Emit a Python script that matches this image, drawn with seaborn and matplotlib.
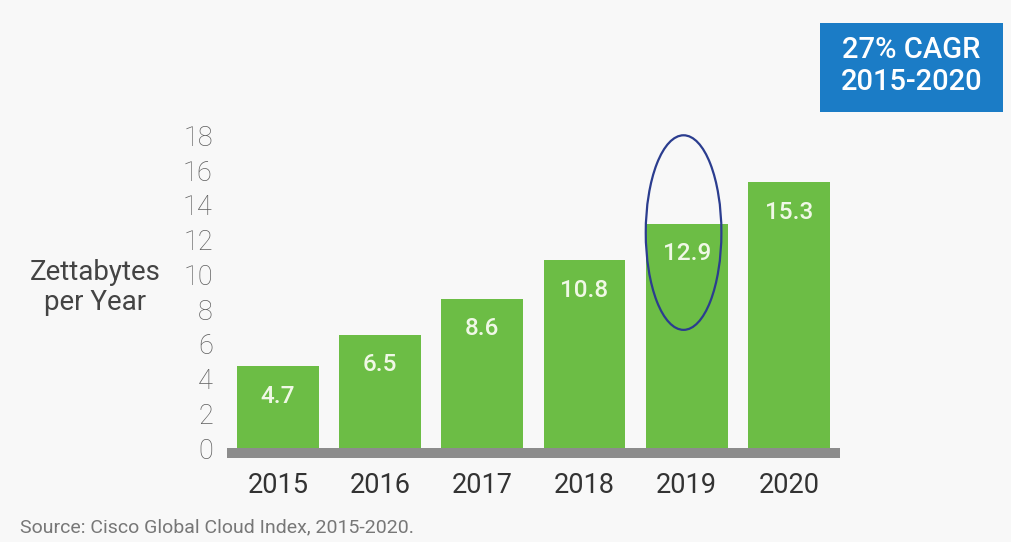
import matplotlib
matplotlib.use("Agg")
import matplotlib.pyplot as plt
from matplotlib.patches import Ellipse, Rectangle
import seaborn as sns
import pandas as pd

years = ["2015", "2016", "2017", "2018", "2019", "2020"]
zettabytes = [4.7, 6.5, 8.6, 10.8, 12.9, 15.3]
y_ticks = [0, 2, 4, 6, 8, 10, 12, 14, 16, 18]
highlight_year = "2019"
cagr_text = "27% CAGR\n2015-2020"
source_text = "Source: Cisco Global Cloud Index, 2015-2020."
y_label = "Zettabytes\nper Year"

df = pd.DataFrame({"year": years, "zb": zettabytes})

sns.set_theme(style="white")
plt.rcParams["font.family"] = ["Roboto", "DejaVu Sans"]

bg = "#f8f8f8"
green = "#6cbd45"

fig = plt.figure(figsize=(10.12, 5.42), dpi=100, facecolor=bg)
ax = fig.add_axes([0.224, 0.1734, 0.606, 0.577], facecolor=bg)

sns.barplot(data=df, x="year", y="zb", color=green, saturation=1,
            width=0.8, ax=ax, edgecolor="none")

ax.set_xlim(-0.5, 5.5)
ax.set_ylim(0, 18)
ax.set_yticks(y_ticks)
ax.set_yticklabels([str(t) for t in y_ticks], fontsize=19.5, color="#5e5e5e",
                   fontweight="light")
ax.tick_params(axis="y", length=0, pad=10)
ax.tick_params(axis="x", length=0, pad=14, labelsize=19.5, labelcolor="#333333")
ax.set_xlabel("")
ax.set_ylabel("")

for s in ["top", "right", "left"]:
    ax.spines[s].set_visible(False)
ax.spines["bottom"].set_color("#8c8c8c")
ax.spines["bottom"].set_linewidth(7.2)
ax.spines["bottom"].set_position(("outward", 3.6))
ax.spines["bottom"].set_capstyle("butt")

# value labels inside the bars
for i, v in enumerate(zettabytes):
    ax.annotate(f"{v}", xy=(i, v), xytext=(0, -21.5), textcoords="offset points",
                ha="center", va="center", fontsize=17.5, fontweight="medium",
                color="#f0f8e6")

# highlight ring around one bar
hi = years.index(highlight_year)
hv = zettabytes[hi]
ax.add_patch(Ellipse((hi - 0.03, hv - 0.5), 0.74, 11.2, fill=False,
                     edgecolor="#2b3d8f", linewidth=1.6, clip_on=False, zorder=5))

# y-axis title
fig.text(0.094, 0.47, y_label, ha="center", va="center", fontsize=20,
         color="#444444", linespacing=1.15)

# CAGR callout box
fig.patches.append(Rectangle((820 / 1012, 1 - 112 / 542), 183 / 1012, 89 / 542,
                             transform=fig.transFigure, facecolor="#1b7cc6",
                             edgecolor="none"))
fig.text(911.5 / 1012, 1 - 66 / 542, cagr_text, ha="center", va="center",
         fontsize=21, color="white", fontweight="medium", linespacing=1.15)

# source note
fig.text(20 / 1012, 1 - 527 / 542, source_text, ha="left", va="center",
         fontsize=14, color="#777777")

fig.savefig("out.png", dpi=100, facecolor=bg)
